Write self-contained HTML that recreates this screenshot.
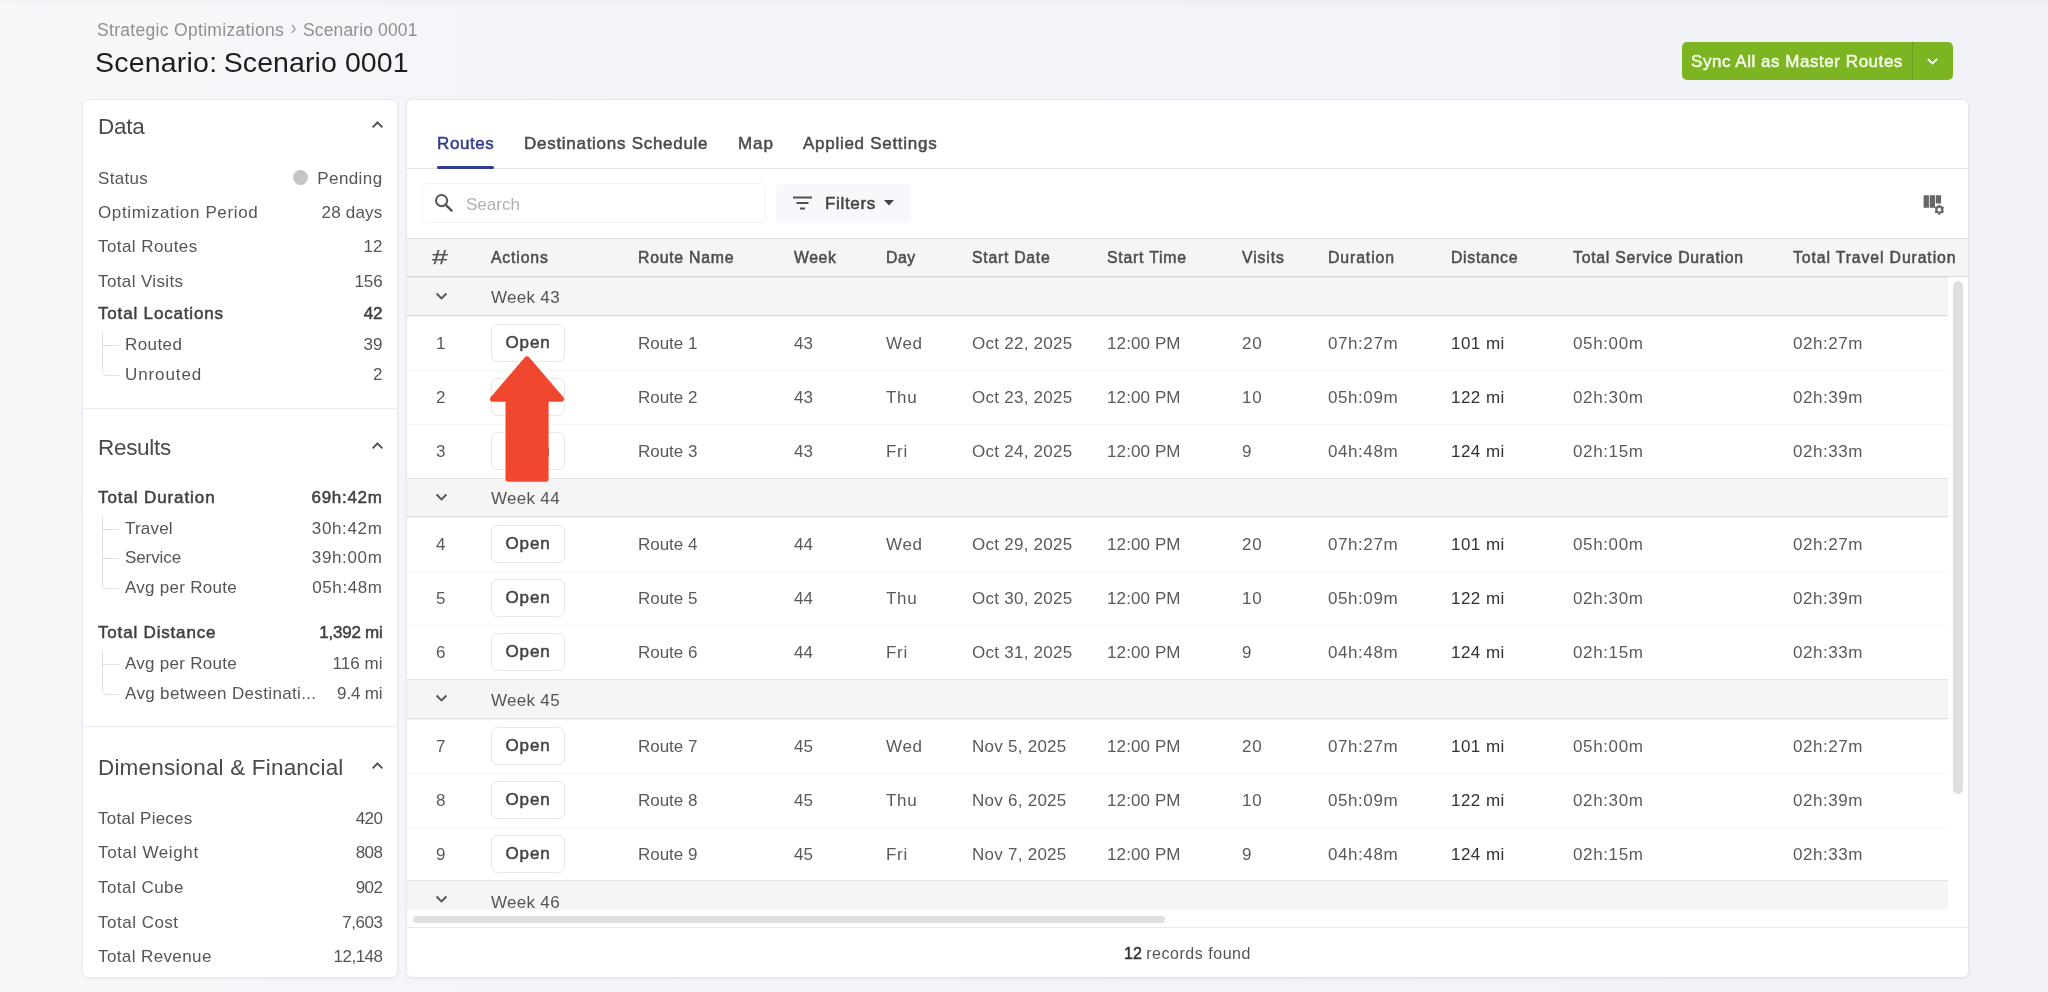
<!DOCTYPE html>
<html><head><meta charset="utf-8"><title>Scenario: Scenario 0001</title>
<style>
*{box-sizing:border-box;margin:0;padding:0}
html,body{width:2048px;height:992px;overflow:hidden}
body{background:linear-gradient(180deg,rgba(40,40,60,.028) 0,rgba(40,40,60,0) 7px),linear-gradient(90deg,#f7f8fa 0,#f4f5f9 550px,#f3f4f8 1050px,#f2f3f8 2048px);font-family:"Liberation Sans",sans-serif;color:#555;position:relative}
.abs{position:absolute}
.crumb{position:absolute;left:97px;top:19px;font-size:17.5px;color:#909090;white-space:nowrap;line-height:22px}
.crumb i{font-style:normal;display:inline-block;width:19px;text-align:center;font-size:21px;line-height:22px;height:22px;vertical-align:top;position:relative;top:-3.5px;left:-.5px;color:#999;transform:scaleX(.8)}
.title{position:absolute;left:95px;top:44px;font-size:28.5px;color:#1d1d1d;white-space:nowrap;line-height:36px}
.sync{position:absolute;left:1682px;top:42px;width:271px;height:38px;background:#7cb521;border-radius:5px;color:#fff;-webkit-text-stroke-width:.5px;font-size:17px;line-height:38px;white-space:nowrap}
.sync span{position:absolute;left:9px;top:1px;color:#f4fae8}
.sync b{position:absolute;left:230px;top:0;width:1px;height:38px;background:#6aa017}
.panel{position:absolute;background:#fff;border-radius:5px;box-shadow:0 0 2px rgba(60,60,90,.12),0 1px 4px rgba(60,60,90,.09)}
#left{left:83px;top:100px;width:314px;height:877px}
#main{left:407px;top:100px;width:1561px;height:877px;overflow:hidden}
#min{position:absolute;left:0;top:-1px;width:1561px;height:878px}
#lin{position:absolute;left:-83px;top:-100px;width:0;height:0}
#lin>*{position:absolute}
.h{left:98px;font-size:22.5px;color:#4a4a4a;white-space:nowrap;line-height:34px}
.lr{left:98px;width:284.5px;height:24px;line-height:24px;font-size:17px;color:#555;white-space:nowrap}
.lr .l{position:absolute;left:0}
.lr .v{position:absolute;right:0}
.lr.b{-webkit-text-stroke-width:.5px;color:#404040}
.lr.in .l{left:27px}
.dot{display:inline-block;width:15px;height:15px;border-radius:50%;background:#c6c6c6;margin-right:9px;vertical-align:-1px}
.sep{left:83px;width:314px;height:1px;background:#ebebeb}
.tl{width:1px;background:#e0e0e0}
.th{width:17px;height:1px;background:#e0e0e0}
.tc{width:17px;height:7px;border-left:1px solid #e0e0e0;border-bottom:1px solid #e0e0e0;border-bottom-left-radius:5px}
#min>*{position:absolute}
.tab{top:32px;font-size:17px;-webkit-text-stroke-width:.5px;color:#4a4a4a;line-height:26px;white-space:nowrap}
.tab.on{color:#303c8f}
.tabline{left:0;top:69px;width:1561px;height:1px;background:#e4e4e4}
.tabul{left:30px;top:67px;width:57px;height:3px;background:#303c8f;border-radius:2px}
.search{left:15px;top:84px;width:344px;height:40px;border:1px solid #f3f3f3;border-radius:5px}
.search span{position:absolute;left:43px;top:10px;font-size:17px;color:#b0b0b0;line-height:22px}
.filters{left:369px;top:85px;width:135px;height:39px;background:#f8f8fc;border-radius:5px}
.filters span{position:absolute;left:49px;top:9px;font-size:17px;-webkit-text-stroke-width:.5px;color:#444;line-height:22px}
.thead{left:0;top:139px;width:1561px;height:39px;background:#f5f5f5;border-top:1px solid #dcdcdc;border-bottom:1px solid #dcdcdc}
.hc{position:absolute;top:8px;font-size:15.8px;-webkit-text-stroke-width:.5px;color:#4c4c4c;line-height:22px;white-space:nowrap}
.hc.hash{font-size:21px;-webkit-text-stroke-width:.25px;top:7px;left:25px;transform:scaleX(1.35);transform-origin:0 50%;color:#555}
.tbody{left:0;top:178px;width:1541px;height:633px;overflow:hidden}
.grow{position:absolute;left:0;width:1541px;height:39px;background:#f5f5f5;border-bottom:1px solid #dcdcdc;border-top:1px solid #e4e4e4}
.gchev{position:absolute;left:28px;top:14px}
.gt{position:absolute;left:84px;top:9px;font-size:17px;line-height:22px;color:#555}
.drow{position:absolute;left:0;width:1541px;height:54px;border-top:1px solid #f7f7f7;background:#fff}
.c{position:absolute;top:16px;font-size:17px;line-height:22px;white-space:nowrap;color:#5a5a5a}
.c.dk{color:#333}
.btn{position:absolute;top:7px;width:74px;height:38px;border:1px solid #e8e8e8;border-radius:6px;text-align:center;-webkit-text-stroke-width:.5px;font-size:17px;line-height:36px;color:#444;background:#fff}
.hscroll{left:6px;top:817px;width:752px;height:7px;border-radius:4px;background:#dfdfdf}
.vscroll{left:1546px;top:182px;width:10px;height:513px;border-radius:5px;background:#dfdfdf}
.footline{left:0;top:828px;width:1561px;height:1px;background:#e9e9e9}
.foot{left:0;top:844px;width:1561px;text-align:center;font-size:16px;color:#555;line-height:22px}
.foot b{color:#333;font-weight:normal;-webkit-text-stroke-width:.5px}
.panel,.crumb,.title,.sync{will-change:transform}

</style></head><body>
<div class="crumb"><span style="letter-spacing:0.31px">Strategic Optimizations</span><i>&#8250;</i><span style="letter-spacing:0.12px">Scenario 0001</span></div>
<div class="title"><span style="letter-spacing:0.21px">Scenario:</span> <span style="position:absolute;left:128.7px;top:0;letter-spacing:0.09px">Scenario 0001</span></div>
<div class="sync"><span style="letter-spacing:0.54px">Sync All as Master Routes</span><b></b>
<svg class="abs" style="left:244px;top:15px" width="13" height="9" viewBox="0 0 13 9"><path d="M1.8 1.8 L6.5 6.4 L11.2 1.8" fill="none" stroke="#fff" stroke-width="1.8"/></svg></div>
<div class="panel" id="left"><div id="lin">
<div class="h" style="top:110px;letter-spacing:-0.27px">Data</div>
<div class="h" style="top:431px;letter-spacing:-0.3px">Results</div>
<div class="h" style="top:751px;letter-spacing:0.18px">Dimensional &amp; Financial</div>
<div class="lr" style="top:167px"><span class="l" style="letter-spacing:0.31px">Status</span><span class="v" style="letter-spacing:0.4px"><i class="dot"></i>Pending</span></div>
<div class="lr" style="top:201px"><span class="l" style="letter-spacing:0.63px">Optimization Period</span><span class="v" style="letter-spacing:0.2px">28 days</span></div>
<div class="lr" style="top:235px"><span class="l" style="letter-spacing:0.43px">Total Routes</span><span class="v" style="letter-spacing:0px">12</span></div>
<div class="lr" style="top:270px"><span class="l" style="letter-spacing:0.38px">Total Visits</span><span class="v" style="letter-spacing:-0.11px">156</span></div>
<div class="lr b" style="top:302px"><span class="l" style="letter-spacing:0.83px">Total Locations</span><span class="v" style="letter-spacing:-0.06px">42</span></div>
<div class="lr in" style="top:333px"><span class="l" style="letter-spacing:0.41px">Routed</span><span class="v" style="letter-spacing:0.04px">39</span></div>
<div class="lr in" style="top:363px"><span class="l" style="letter-spacing:0.9px">Unrouted</span><span class="v" style="letter-spacing:0px">2</span></div>
<div class="lr b" style="top:486px"><span class="l" style="letter-spacing:0.9px">Total Duration</span><span class="v" style="letter-spacing:0.68px">69h:42m</span></div>
<div class="lr in" style="top:517px"><span class="l" style="letter-spacing:0.21px">Travel</span><span class="v" style="letter-spacing:0.65px">30h:42m</span></div>
<div class="lr in" style="top:546px"><span class="l" style="letter-spacing:-0.1px">Service</span><span class="v" style="letter-spacing:0.65px">39h:00m</span></div>
<div class="lr in" style="top:576px"><span class="l" style="letter-spacing:0.27px">Avg per Route</span><span class="v" style="letter-spacing:0.58px">05h:48m</span></div>
<div class="lr b" style="top:621px"><span class="l" style="letter-spacing:0.82px">Total Distance</span><span class="v" style="letter-spacing:-0.25px">1,392 mi</span></div>
<div class="lr in" style="top:652px"><span class="l" style="letter-spacing:0.27px">Avg per Route</span><span class="v" style="letter-spacing:0.04px">116 mi</span></div>
<div class="lr in" style="top:682px"><span class="l" style="letter-spacing:0.35px">Avg between Destinati...</span><span class="v" style="letter-spacing:-0.15px">9.4 mi</span></div>
<div class="lr" style="top:807px"><span class="l" style="letter-spacing:0.24px">Total Pieces</span><span class="v" style="letter-spacing:-0.5px">420</span></div>
<div class="lr" style="top:841px"><span class="l" style="letter-spacing:0.63px">Total Weight</span><span class="v" style="letter-spacing:-0.5px">808</span></div>
<div class="lr" style="top:876px"><span class="l" style="letter-spacing:0.46px">Total Cube</span><span class="v" style="letter-spacing:-0.5px">902</span></div>
<div class="lr" style="top:911px"><span class="l" style="letter-spacing:0.5px">Total Cost</span><span class="v" style="letter-spacing:-0.45px">7,603</span></div>
<div class="lr" style="top:945px"><span class="l" style="letter-spacing:0.39px">Total Revenue</span><span class="v" style="letter-spacing:-0.5px">12,148</span></div>
<svg style="left:371px;top:120px" width="13" height="9" viewBox="0 0 13 9"><path d="M1.6 7.4 L6.5 2.5 L11.4 7.4" fill="none" stroke="#555" stroke-width="1.95"/></svg>
<svg style="left:371px;top:441px" width="13" height="9" viewBox="0 0 13 9"><path d="M1.6 7.4 L6.5 2.5 L11.4 7.4" fill="none" stroke="#555" stroke-width="1.95"/></svg>
<svg style="left:371px;top:761px" width="13" height="9" viewBox="0 0 13 9"><path d="M1.6 7.4 L6.5 2.5 L11.4 7.4" fill="none" stroke="#555" stroke-width="1.95"/></svg>
<div class="tl" style="left:102px;top:332px;height:39px"></div><div class="th" style="left:102px;top:345px"></div><div class="tc" style="left:102px;top:369px"></div>
<div class="tl" style="left:102px;top:516px;height:68px"></div><div class="th" style="left:102px;top:529px"></div><div class="th" style="left:102px;top:558px"></div><div class="tc" style="left:102px;top:582px"></div>
<div class="tl" style="left:102px;top:651px;height:39px"></div><div class="th" style="left:102px;top:664px"></div><div class="tc" style="left:102px;top:688px"></div>
<div class="sep" style="top:408px"></div><div class="sep" style="top:726px"></div>
</div></div>
<div class="panel" id="main"><div id="min">
<span class="tab on" style="left:30px;letter-spacing:0.6px">Routes</span><span class="tab" style="left:117px;letter-spacing:0.72px">Destinations Schedule</span><span class="tab" style="left:331px;letter-spacing:0.9px">Map</span><span class="tab" style="left:396px;letter-spacing:0.72px">Applied Settings</span>
<div class="tabline"></div><div class="tabul"></div>
<div class="search"><svg class="abs" style="left:11px;top:9px" width="20" height="20" viewBox="0 0 20 20"><circle cx="7.6" cy="7.6" r="5.6" fill="none" stroke="#555" stroke-width="2"/><path d="M11.8 11.8 L17.6 17.6" stroke="#555" stroke-width="2.4" stroke-linecap="round"/></svg><span style="letter-spacing:-0.0px">Search</span></div>
<div class="filters"><svg class="abs" style="left:17px;top:12px" width="19" height="14" viewBox="0 0 19 14"><path d="M0 1.5H19M3.5 7H15.5M7 12.5H12" stroke="#505050" stroke-width="1.8"/></svg><span style="letter-spacing:0.66px">Filters</span><svg class="abs" style="left:108px;top:16px" width="10" height="6" viewBox="0 0 10 6"><path d="M0 0H10L5 5.5Z" fill="#444"/></svg></div>
<svg style="left:1516px;top:96px" width="23" height="21" viewBox="0 0 23 21"><path d="M0.6 0.3H5.9V12.8H0.6ZM6.7 0.3H12V12.8H6.7ZM12.8 0.3H18.1V8.4H12.8Z" fill="#666"/><g transform="translate(16.3,14.7)"><circle r="3.1" fill="none" stroke="#666" stroke-width="2"/><path d="M0-5V5M-4.33-2.5L4.33 2.5M-4.33 2.5L4.33-2.5" stroke="#666" stroke-width="1.7"/><circle r="1.9" fill="#fff"/></g></svg>
<div class="thead"><span class="hc hash">#</span><span class="hc" style="left:84px;letter-spacing:0.83px">Actions</span><span class="hc" style="left:231px;letter-spacing:0.75px">Route Name</span><span class="hc" style="left:387px;letter-spacing:0.57px">Week</span><span class="hc" style="left:479px;letter-spacing:0.56px">Day</span><span class="hc" style="left:565px;letter-spacing:0.73px">Start Date</span><span class="hc" style="left:700px;letter-spacing:0.78px">Start Time</span><span class="hc" style="left:835px;letter-spacing:0.9px">Visits</span><span class="hc" style="left:921px;letter-spacing:0.9px">Duration</span><span class="hc" style="left:1044px;letter-spacing:0.71px">Distance</span><span class="hc" style="left:1166px;letter-spacing:0.74px">Total Service Duration</span><span class="hc" style="left:1386px;letter-spacing:0.88px">Total Travel Duration</span></div>
<div class="tbody"><div class="grow" style="top:0px;height:39px"><svg class="gchev" width="13" height="9" viewBox="0 0 13 9"><path d="M1.6 1.5 L6.5 6.4 L11.4 1.5" fill="none" stroke="#555" stroke-width="1.95"/></svg><span class="gt" style="top:9px;letter-spacing:0.3px">Week 43</span></div><div class="drow" style="top:39px"><span class="c" style="left:29px;letter-spacing:0px">1</span><span class="btn" style="left:84px;letter-spacing:0.86px">Open</span><span class="c" style="left:231px;letter-spacing:-0.03px">Route 1</span><span class="c" style="left:387px;letter-spacing:-0.06px">43</span><span class="c" style="left:479px;letter-spacing:0.7px">Wed</span><span class="c" style="left:565px;letter-spacing:0.26px">Oct 22, 2025</span><span class="c" style="left:700px;letter-spacing:0.11px">12:00 PM</span><span class="c" style="left:835px;letter-spacing:0.9px">20</span><span class="c" style="left:921px;letter-spacing:0.57px">07h:27m</span><span class="c dk" style="left:1044px;letter-spacing:0.45px">101 mi</span><span class="c" style="left:1166px;letter-spacing:0.63px">05h:00m</span><span class="c" style="left:1386px;letter-spacing:0.53px">02h:27m</span></div><div class="drow" style="top:93px"><span class="c" style="left:29px;letter-spacing:0px">2</span><span class="btn" style="left:84px;letter-spacing:0.86px">Open</span><span class="c" style="left:231px;letter-spacing:-0.03px">Route 2</span><span class="c" style="left:387px;letter-spacing:-0.06px">43</span><span class="c" style="left:479px;letter-spacing:0.7px">Thu</span><span class="c" style="left:565px;letter-spacing:0.26px">Oct 23, 2025</span><span class="c" style="left:700px;letter-spacing:0.11px">12:00 PM</span><span class="c" style="left:835px;letter-spacing:0.9px">10</span><span class="c" style="left:921px;letter-spacing:0.57px">05h:09m</span><span class="c dk" style="left:1044px;letter-spacing:0.45px">122 mi</span><span class="c" style="left:1166px;letter-spacing:0.63px">02h:30m</span><span class="c" style="left:1386px;letter-spacing:0.53px">02h:39m</span></div><div class="drow" style="top:147px"><span class="c" style="left:29px;letter-spacing:0px">3</span><span class="btn" style="left:84px;letter-spacing:0.86px">Open</span><span class="c" style="left:231px;letter-spacing:-0.03px">Route 3</span><span class="c" style="left:387px;letter-spacing:-0.06px">43</span><span class="c" style="left:479px;letter-spacing:0.7px">Fri</span><span class="c" style="left:565px;letter-spacing:0.26px">Oct 24, 2025</span><span class="c" style="left:700px;letter-spacing:0.11px">12:00 PM</span><span class="c" style="left:835px;letter-spacing:0.9px">9</span><span class="c" style="left:921px;letter-spacing:0.57px">04h:48m</span><span class="c dk" style="left:1044px;letter-spacing:0.45px">124 mi</span><span class="c" style="left:1166px;letter-spacing:0.63px">02h:15m</span><span class="c" style="left:1386px;letter-spacing:0.53px">02h:33m</span></div><div class="grow" style="top:201px;height:39px"><svg class="gchev" width="13" height="9" viewBox="0 0 13 9"><path d="M1.6 1.5 L6.5 6.4 L11.4 1.5" fill="none" stroke="#555" stroke-width="1.95"/></svg><span class="gt" style="top:9px;letter-spacing:0.3px">Week 44</span></div><div class="drow" style="top:240px"><span class="c" style="left:29px;letter-spacing:0px">4</span><span class="btn" style="left:84px;letter-spacing:0.86px">Open</span><span class="c" style="left:231px;letter-spacing:-0.03px">Route 4</span><span class="c" style="left:387px;letter-spacing:-0.06px">44</span><span class="c" style="left:479px;letter-spacing:0.7px">Wed</span><span class="c" style="left:565px;letter-spacing:0.26px">Oct 29, 2025</span><span class="c" style="left:700px;letter-spacing:0.11px">12:00 PM</span><span class="c" style="left:835px;letter-spacing:0.9px">20</span><span class="c" style="left:921px;letter-spacing:0.57px">07h:27m</span><span class="c dk" style="left:1044px;letter-spacing:0.45px">101 mi</span><span class="c" style="left:1166px;letter-spacing:0.63px">05h:00m</span><span class="c" style="left:1386px;letter-spacing:0.53px">02h:27m</span></div><div class="drow" style="top:294px"><span class="c" style="left:29px;letter-spacing:0px">5</span><span class="btn" style="left:84px;letter-spacing:0.86px">Open</span><span class="c" style="left:231px;letter-spacing:-0.03px">Route 5</span><span class="c" style="left:387px;letter-spacing:-0.06px">44</span><span class="c" style="left:479px;letter-spacing:0.7px">Thu</span><span class="c" style="left:565px;letter-spacing:0.26px">Oct 30, 2025</span><span class="c" style="left:700px;letter-spacing:0.11px">12:00 PM</span><span class="c" style="left:835px;letter-spacing:0.9px">10</span><span class="c" style="left:921px;letter-spacing:0.57px">05h:09m</span><span class="c dk" style="left:1044px;letter-spacing:0.45px">122 mi</span><span class="c" style="left:1166px;letter-spacing:0.63px">02h:30m</span><span class="c" style="left:1386px;letter-spacing:0.53px">02h:39m</span></div><div class="drow" style="top:348px"><span class="c" style="left:29px;letter-spacing:0px">6</span><span class="btn" style="left:84px;letter-spacing:0.86px">Open</span><span class="c" style="left:231px;letter-spacing:-0.03px">Route 6</span><span class="c" style="left:387px;letter-spacing:-0.06px">44</span><span class="c" style="left:479px;letter-spacing:0.7px">Fri</span><span class="c" style="left:565px;letter-spacing:0.26px">Oct 31, 2025</span><span class="c" style="left:700px;letter-spacing:0.11px">12:00 PM</span><span class="c" style="left:835px;letter-spacing:0.9px">9</span><span class="c" style="left:921px;letter-spacing:0.57px">04h:48m</span><span class="c dk" style="left:1044px;letter-spacing:0.45px">124 mi</span><span class="c" style="left:1166px;letter-spacing:0.63px">02h:15m</span><span class="c" style="left:1386px;letter-spacing:0.53px">02h:33m</span></div><div class="grow" style="top:402px;height:40px"><svg class="gchev" width="13" height="9" viewBox="0 0 13 9"><path d="M1.6 1.5 L6.5 6.4 L11.4 1.5" fill="none" stroke="#555" stroke-width="1.95"/></svg><span class="gt" style="top:10px;letter-spacing:0.3px">Week 45</span></div><div class="drow" style="top:442px"><span class="c" style="left:29px;letter-spacing:0px">7</span><span class="btn" style="left:84px;letter-spacing:0.86px">Open</span><span class="c" style="left:231px;letter-spacing:-0.03px">Route 7</span><span class="c" style="left:387px;letter-spacing:-0.06px">45</span><span class="c" style="left:479px;letter-spacing:0.7px">Wed</span><span class="c" style="left:565px;letter-spacing:0.26px">Nov 5, 2025</span><span class="c" style="left:700px;letter-spacing:0.11px">12:00 PM</span><span class="c" style="left:835px;letter-spacing:0.9px">20</span><span class="c" style="left:921px;letter-spacing:0.57px">07h:27m</span><span class="c dk" style="left:1044px;letter-spacing:0.45px">101 mi</span><span class="c" style="left:1166px;letter-spacing:0.63px">05h:00m</span><span class="c" style="left:1386px;letter-spacing:0.53px">02h:27m</span></div><div class="drow" style="top:496px"><span class="c" style="left:29px;letter-spacing:0px">8</span><span class="btn" style="left:84px;letter-spacing:0.86px">Open</span><span class="c" style="left:231px;letter-spacing:-0.03px">Route 8</span><span class="c" style="left:387px;letter-spacing:-0.06px">45</span><span class="c" style="left:479px;letter-spacing:0.7px">Thu</span><span class="c" style="left:565px;letter-spacing:0.26px">Nov 6, 2025</span><span class="c" style="left:700px;letter-spacing:0.11px">12:00 PM</span><span class="c" style="left:835px;letter-spacing:0.9px">10</span><span class="c" style="left:921px;letter-spacing:0.57px">05h:09m</span><span class="c dk" style="left:1044px;letter-spacing:0.45px">122 mi</span><span class="c" style="left:1166px;letter-spacing:0.63px">02h:30m</span><span class="c" style="left:1386px;letter-spacing:0.53px">02h:39m</span></div><div class="drow" style="top:550px"><span class="c" style="left:29px;letter-spacing:0px">9</span><span class="btn" style="left:84px;letter-spacing:0.86px">Open</span><span class="c" style="left:231px;letter-spacing:-0.03px">Route 9</span><span class="c" style="left:387px;letter-spacing:-0.06px">45</span><span class="c" style="left:479px;letter-spacing:0.7px">Fri</span><span class="c" style="left:565px;letter-spacing:0.26px">Nov 7, 2025</span><span class="c" style="left:700px;letter-spacing:0.11px">12:00 PM</span><span class="c" style="left:835px;letter-spacing:0.9px">9</span><span class="c" style="left:921px;letter-spacing:0.57px">04h:48m</span><span class="c dk" style="left:1044px;letter-spacing:0.45px">124 mi</span><span class="c" style="left:1166px;letter-spacing:0.63px">02h:15m</span><span class="c" style="left:1386px;letter-spacing:0.53px">02h:33m</span></div><div class="grow" style="top:603px;height:39px"><svg class="gchev" width="13" height="9" viewBox="0 0 13 9"><path d="M1.6 1.5 L6.5 6.4 L11.4 1.5" fill="none" stroke="#555" stroke-width="1.95"/></svg><span class="gt" style="top:11px;letter-spacing:0.3px">Week 46</span></div></div>
<div class="hscroll"></div><div class="vscroll"></div>
<div class="footline"></div>
<div class="foot"><b>12</b> <span style="letter-spacing:0.53px">records found</span></div>
</div></div>
<svg class="abs" style="left:480px;top:350px" width="100" height="140" viewBox="480 350 100 140"><path d="M527 359.2 L561.3 399 L545.8 399 L545.8 479 L508.3 479 L508.3 399 L492.7 399 Z" fill="#f0472f" stroke="#f0472f" stroke-width="5.6" stroke-linejoin="round"/></svg>
</body></html>
